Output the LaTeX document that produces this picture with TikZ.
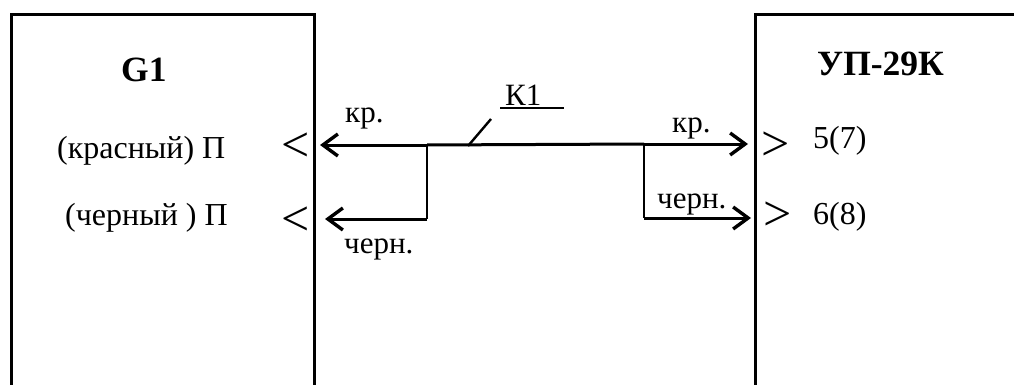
\documentclass[tikz,border=0pt]{standalone}
\usepackage{fontspec}
\setmainfont{Liberation Serif}
\usetikzlibrary{arrows.meta}

\begin{document}
\begin{tikzpicture}
[x=1pt,y=-1pt,%
  boxLine/.style={line width=3pt,line cap=rect},%
  wireLine/.style={line width=2.4pt},%
  mainLine/.style={line width=3pt},%
  darkArrow/.style={-{Straight Barb[length=15pt,width=22pt,line width=3.4pt]},line width=3pt},%
  titleText/.style={anchor=base west,inner sep=0pt,font=\fontsize{35.5}{36}\selectfont\bfseries},%
  pinText/.style={anchor=base west,inner sep=0pt,font=\fontsize{32}{32}\selectfont},%
  wireText/.style={anchor=base west,inner sep=0pt,font=\fontsize{31}{31}\selectfont},%
  markText/.style={inner sep=0pt,font=\fontsize{50}{50}\selectfont}]
\useasboundingbox (0,0) rectangle (1014,385);
%% corners of the boxes and points on the wires
\foreach \nodename/\x/\y in {gbl/11/385, gtl/11/15, gtr/314/15, gbr/314/385,
  utr/1014/15, utl/755/15, ubl/755/385,
  redl/320/145, redr/748/144, blkl/325/219, blkr/751/218,
  jnl/427/145, jnr/644/144, cnl/427/219, cnr/644/218,
  tapa/468/146, tapb/491/119, undera/500/108, underb/564/108}
{
  \coordinate (\nodename) at (\x,\y);
}
%% boxes, open at the bottom
\draw[boxLine] (gbl) -- (gtl) -- (gtr) -- (gbr);
\draw[boxLine] (utr) -- (utl) -- (ubl);
%% titles
\node[titleText] (gname) at (121,82) {G1};
\node[titleText] (uname) at (817,76) {УП-29К};
%% texts at the pins
\foreach \nodename/\x/\y/\labeltext in {pina/57/158/(красный) П, pinb/65/225/(черный ) П,
  pinc/813/148/5(7), pind/813/224/6(8)}
{
  \node[pinText] (\nodename) at (\x,\y) {\labeltext};
}
%% pin marks
\foreach \nodename/\x/\y/\labeltext in {marka/296/147/<, markb/296/221/<, markc/776/146/>, markd/778/216/>}
{
  \node[markText] (\nodename) at (\x,\y) {\labeltext};
}
%% wire texts
\foreach \nodename/\x/\y/\labeltext in {wirea/345/123/кр., wireb/344/253/черн.,
  wirec/672/132/кр., wired/657/208/черн., cable/505/106/К1}
{
  \node[wireText] (\nodename) at (\x,\y) {\labeltext};
}
%% wires
\draw[darkArrow] (jnl) -- (redl);
\draw[mainLine] (jnl) -- (jnr);
\draw[darkArrow] (jnr) -- (redr);
\draw[wireLine] (jnl) -- (cnl);
\draw[darkArrow] (cnl) -- (blkl);
\draw[wireLine] (jnr) -- (cnr);
\draw[darkArrow] (cnr) -- (blkr);
\draw[wireLine] (tapa) -- (tapb);
\draw[wireLine] (undera) -- (underb);
\end{tikzpicture}
\end{document}
